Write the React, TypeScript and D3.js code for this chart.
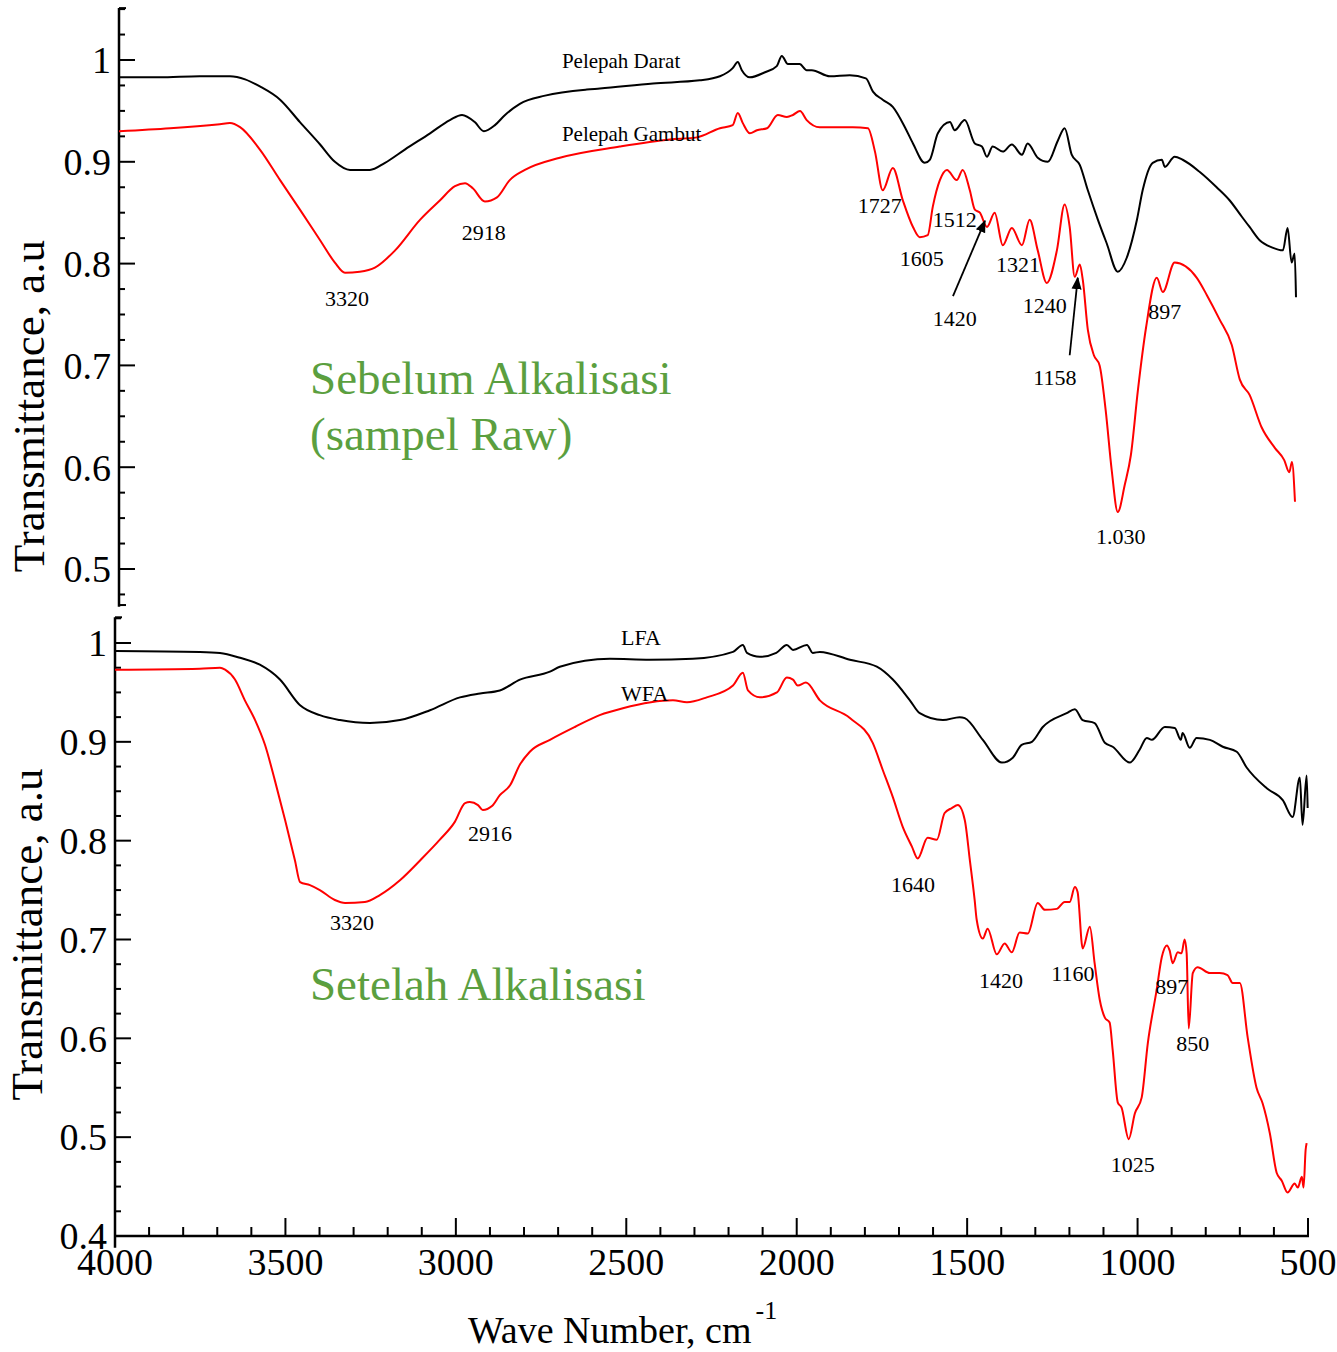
import React from 'react';
import * as d3 from 'd3';

// spectra: [wave number cm-1, transmittance]
const pelepahDarat: [number, number][] = [
  [4000, 0.983], [3880, 0.983], [3760, 0.984], [3670, 0.984], [3625, 0.981], [3581, 0.974],
  [3521, 0.961], [3462, 0.939], [3402, 0.917], [3358, 0.9], [3313, 0.892], [3254, 0.892],
  [3209, 0.899], [3150, 0.912], [3075, 0.928], [3016, 0.941], [2980, 0.946], [2942, 0.939],
  [2915, 0.93], [2882, 0.936], [2852, 0.946], [2808, 0.957], [2733, 0.965], [2609, 0.971],
  [2570, 0.972], [2412, 0.977], [2273, 0.98], [2213, 0.984], [2175, 0.992], [2160, 0.998],
  [2148, 0.99], [2124, 0.983], [2079, 0.988], [2044, 0.994], [2029, 1.004], [2011, 0.996],
  [1976, 0.996], [1955, 0.99], [1940, 0.99], [1886, 0.984], [1827, 0.985], [1779, 0.982],
  [1758, 0.969], [1729, 0.961], [1699, 0.954], [1663, 0.934], [1639, 0.918], [1604, 0.899],
  [1589, 0.902], [1565, 0.928], [1529, 0.939], [1515, 0.931], [1485, 0.941], [1455, 0.918],
  [1434, 0.915], [1419, 0.905], [1402, 0.915], [1372, 0.91], [1345, 0.917], [1315, 0.907],
  [1298, 0.918], [1268, 0.904], [1238, 0.9], [1208, 0.921], [1188, 0.933], [1167, 0.907],
  [1143, 0.897], [1119, 0.872], [1089, 0.843], [1063, 0.82], [1030, 0.792], [1003, 0.806],
  [973, 0.843], [956, 0.872], [926, 0.899], [899, 0.902], [890, 0.895], [861, 0.905],
  [837, 0.902], [786, 0.89], [736, 0.875], [697, 0.862], [661, 0.846], [638, 0.836],
  [608, 0.823], [572, 0.816], [539, 0.813], [525, 0.835], [513, 0.801], [504, 0.81], [500, 0.767],
];

const pelepahGambut: [number, number][] = [
  [4000, 0.93], [3848, 0.933], [3700, 0.937], [3670, 0.938], [3640, 0.934], [3581, 0.912],
  [3521, 0.882], [3462, 0.853], [3402, 0.823], [3358, 0.801], [3328, 0.791], [3284, 0.792],
  [3239, 0.796], [3179, 0.813], [3105, 0.843], [3046, 0.862], [3001, 0.876], [2971, 0.879],
  [2948, 0.874], [2912, 0.861], [2876, 0.865], [2838, 0.882], [2793, 0.892], [2689, 0.904],
  [2511, 0.915], [2362, 0.922], [2282, 0.924], [2213, 0.933], [2175, 0.936], [2160, 0.948],
  [2145, 0.938], [2124, 0.928], [2103, 0.931], [2073, 0.933], [2041, 0.946], [2014, 0.944],
  [1996, 0.946], [1975, 0.95], [1955, 0.941], [1916, 0.934], [1818, 0.934], [1773, 0.933],
  [1752, 0.91], [1729, 0.872], [1699, 0.894], [1669, 0.862], [1639, 0.836], [1619, 0.826],
  [1595, 0.828], [1580, 0.856], [1559, 0.882], [1538, 0.892], [1509, 0.882], [1491, 0.892],
  [1470, 0.872], [1455, 0.853], [1440, 0.85], [1419, 0.836], [1396, 0.85], [1372, 0.818],
  [1345, 0.835], [1315, 0.818], [1292, 0.843], [1268, 0.813], [1241, 0.781], [1211, 0.813],
  [1188, 0.858], [1173, 0.836], [1158, 0.787], [1143, 0.799], [1134, 0.784], [1119, 0.735],
  [1101, 0.71], [1084, 0.7], [1066, 0.656], [1048, 0.597], [1030, 0.556], [1009, 0.583],
  [991, 0.612], [970, 0.676], [946, 0.737], [914, 0.786], [896, 0.772], [861, 0.801],
  [795, 0.786], [765, 0.769], [727, 0.745], [691, 0.72], [667, 0.686], [638, 0.671],
  [602, 0.639], [563, 0.619], [535, 0.607], [520, 0.595], [512, 0.605], [503, 0.566],
];

const lfa: [number, number][] = [
  [4000, 0.992], [3751, 0.991], [3692, 0.99], [3633, 0.985], [3575, 0.978], [3516, 0.963],
  [3457, 0.937], [3399, 0.927], [3340, 0.922], [3252, 0.919], [3164, 0.922], [3076, 0.932],
  [2988, 0.945], [2929, 0.949], [2871, 0.952], [2812, 0.963], [2724, 0.971], [2695, 0.976],
  [2548, 0.984], [2431, 0.983], [2305, 0.984], [2187, 0.991], [2158, 0.998], [2146, 0.99],
  [2108, 0.986], [2060, 0.99], [2029, 0.998], [2011, 0.993], [1970, 0.998], [1953, 0.99],
  [1932, 0.991], [1844, 0.983], [1765, 0.976], [1718, 0.963], [1668, 0.942], [1639, 0.929],
  [1571, 0.922], [1522, 0.925], [1507, 0.924], [1454, 0.902], [1398, 0.879], [1366, 0.884],
  [1340, 0.897], [1310, 0.9], [1278, 0.915], [1208, 0.929], [1184, 0.933], [1161, 0.922],
  [1126, 0.919], [1096, 0.899], [1073, 0.895], [1023, 0.879], [994, 0.892], [973, 0.904],
  [958, 0.902], [920, 0.915], [891, 0.914], [873, 0.902], [868, 0.909], [847, 0.894],
  [827, 0.904], [788, 0.902], [750, 0.895], [709, 0.89], [680, 0.874], [621, 0.853],
  [574, 0.841], [545, 0.824], [524, 0.864], [516, 0.816], [504, 0.866], [501, 0.833],
];

const wfa: [number, number][] = [
  [4000, 0.973], [3751, 0.974], [3692, 0.975], [3677, 0.973], [3648, 0.963], [3619, 0.942],
  [3589, 0.922], [3560, 0.897], [3531, 0.861], [3501, 0.821], [3472, 0.78], [3457, 0.758],
  [3428, 0.755], [3399, 0.75], [3355, 0.74], [3325, 0.737], [3267, 0.738], [3223, 0.745],
  [3164, 0.76], [3105, 0.78], [3047, 0.801], [3003, 0.819], [2973, 0.838], [2959, 0.839],
  [2935, 0.836], [2921, 0.831], [2894, 0.835], [2871, 0.846], [2841, 0.856], [2812, 0.877],
  [2783, 0.89], [2724, 0.902], [2651, 0.915], [2578, 0.927], [2510, 0.934], [2363, 0.942],
  [2322, 0.94], [2264, 0.945], [2187, 0.957], [2158, 0.97], [2143, 0.952], [2108, 0.945],
  [2058, 0.95], [2029, 0.965], [2011, 0.963], [1997, 0.957], [1973, 0.96], [1932, 0.942],
  [1844, 0.924], [1777, 0.899], [1747, 0.871], [1718, 0.844], [1689, 0.814], [1662, 0.794],
  [1645, 0.782], [1616, 0.803], [1589, 0.801], [1566, 0.828], [1545, 0.833], [1527, 0.836],
  [1507, 0.821], [1492, 0.78], [1478, 0.74], [1472, 0.72], [1454, 0.701], [1440, 0.711],
  [1413, 0.685], [1390, 0.696], [1369, 0.687], [1346, 0.707], [1322, 0.706], [1293, 0.737],
  [1272, 0.73], [1237, 0.731], [1214, 0.738], [1199, 0.738], [1184, 0.753], [1176, 0.748],
  [1161, 0.691], [1140, 0.713], [1126, 0.676], [1111, 0.639], [1096, 0.621], [1082, 0.616],
  [1073, 0.588], [1058, 0.535], [1047, 0.53], [1026, 0.498], [1008, 0.524], [988, 0.54],
  [970, 0.595], [944, 0.649], [929, 0.682], [914, 0.694], [906, 0.689], [897, 0.676],
  [882, 0.687], [871, 0.686], [862, 0.7], [856, 0.686], [850, 0.61], [838, 0.666],
  [824, 0.672], [788, 0.666], [759, 0.666], [736, 0.664], [721, 0.656], [700, 0.656],
  [677, 0.601], [651, 0.55], [633, 0.534], [612, 0.504], [592, 0.464], [577, 0.456],
  [560, 0.444], [539, 0.453], [530, 0.449], [518, 0.46], [513, 0.449], [507, 0.487], [504, 0.494],
];

// peak labels: [text, wave number, transmittance of baseline]
const topLabels: [string, number, number][] = [
  ['3320', 3322, 0.758], ['2918', 2915, 0.823], ['1727', 1738, 0.85], ['1605', 1613, 0.798],
  ['1512', 1515, 0.836], ['1420', 1515, 0.739], ['1321', 1327, 0.792], ['1240', 1247, 0.751],
  ['1158', 1217, 0.681], ['897', 890, 0.746], ['1.030', 1021, 0.525],
];
const bottomLabels: [string, number, number][] = [
  ['LFA', 2457, 0.998], ['WFA', 2446, 0.941], ['3320', 3305, 0.71], ['2916', 2900, 0.8],
  ['1640', 1659, 0.748], ['1420', 1401, 0.651], ['1160', 1190, 0.658], ['897', 900, 0.645],
  ['850', 838, 0.587], ['1025', 1014, 0.465],
];
// arrows: from [wn, T] to [wn, T]
const topArrows: [number, number, number, number][] = [
  [1520, 0.768, 1425, 0.842],
  [1173, 0.71, 1149, 0.786],
];

const xMajor = [4000, 3500, 3000, 2500, 2000, 1500, 1000, 500];

const FONT = "'Liberation Serif', 'Times New Roman', serif";
const GREEN = '#5b9f3f';

const W = 1337;
const H = 1352;

const xTop = d3.scaleLinear().domain([4000, 500]).range([119, 1296]);
const yTop = d3.scaleLinear().domain([0.5, 1]).range([569, 60]);
const xBot = d3.scaleLinear().domain([4000, 500]).range([115, 1308]);
const yBot = d3.scaleLinear().domain([0.4, 1]).range([1236, 643]);

function spectrum(x: d3.ScaleLinear<number, number>, y: d3.ScaleLinear<number, number>) {
  return d3.line<[number, number]>()
    .x((d) => x(d[0]))
    .y((d) => y(d[1]))
    .curve(d3.curveMonotoneX);
}

function YAxis({ x, y, from, to, majors }: any) {
  const ax = x(4000);
  const ticks = d3.range(from, to + 1).map((i: number) => i * 0.025);
  return (
    <g>
      <line x1={ax} x2={ax} y1={y(to * 0.025) - 1} y2={y(from * 0.025 - 0.012)} stroke="#000" strokeWidth={2.5} />
      <line x1={ax} x2={ax + 7} y1={y(to * 0.025) - 1} y2={y(to * 0.025) - 1} stroke="#000" strokeWidth={2} />
      {ticks.map((t: number, i: number) => {
        const major = (from + i) % 4 === 0;
        return (
          <line key={i} x1={ax} x2={ax + (major ? 16 : 6)} y1={y(t)} y2={y(t)} stroke="#000" strokeWidth={2} />
        );
      })}
      {majors.map((t: number) => (
        <text key={t} x={ax - 8} y={y(t)} dy="0.35em" textAnchor="end" fontSize={38} fontFamily={FONT}>
          {t === 1 ? '1' : t.toFixed(1)}
        </text>
      ))}
    </g>
  );
}

export default function App() {
  const lineTop = spectrum(xTop, yTop);
  const lineBot = spectrum(xBot, yBot);
  const minorX = d3.range(5, 41).map((i) => i * 100);
  const yAxisBase = yBot(0.4);

  return (
    <svg width={W} height={H} style={{ position: 'absolute', left: 0, top: 0, background: '#fff' }}>
      <defs>
        <marker id="arrowhead" viewBox="0 0 10 10" refX="9" refY="5" markerWidth="7" markerHeight="9" orient="auto">
          <path d="M0,1 L10,5 L0,9 z" fill="#000" />
        </marker>
      </defs>

      {/* top panel: sebelum alkalisasi */}
      <YAxis x={xTop} y={yTop} from={19} to={42} majors={[0.5, 0.6, 0.7, 0.8, 0.9, 1]} />
      <line x1={xTop(4000)} x2={xTop(4000) + 7} y1={yTop(0.4646)} y2={yTop(0.4646)} stroke="#000" strokeWidth={2} />
      <path d={lineTop(pelepahDarat) || ''} fill="none" stroke="#000" strokeWidth={2} />
      <path d={lineTop(pelepahGambut) || ''} fill="none" stroke="#ff0000" strokeWidth={2} />
      <text x={xTop(2683)} y={yTop(0.992)} fontSize={21} fontFamily={FONT}>Pelepah Darat</text>
      <text x={xTop(2683)} y={yTop(0.92)} fontSize={21} fontFamily={FONT}>Pelepah Gambut</text>
      {topLabels.map(([s, wn, t], i) => (
        <text key={i} x={xTop(wn)} y={yTop(t)} textAnchor="middle" fontSize={22} fontFamily={FONT}>{s}</text>
      ))}
      {topArrows.map(([w1, t1, w2, t2], i) => (
        <line key={i} x1={xTop(w1)} y1={yTop(t1)} x2={xTop(w2)} y2={yTop(t2)} stroke="#000" strokeWidth={1.8} markerEnd="url(#arrowhead)" />
      ))}
      <text x={xTop(3432)} y={yTop(0.672)} fontSize={47} fontFamily={FONT} fill={GREEN}>Sebelum Alkalisasi</text>
      <text x={xTop(3432)} y={yTop(0.617)} fontSize={47} fontFamily={FONT} fill={GREEN}>(sampel Raw)</text>
      <text transform={`translate(44,${yTop(0.66)}) rotate(-90)`} textAnchor="middle" fontSize={45} fontFamily={FONT}>
        Transmittance, a.u
      </text>

      {/* bottom panel: setelah alkalisasi */}
      <YAxis x={xBot} y={yBot} from={16} to={41} majors={[0.4, 0.5, 0.6, 0.7, 0.8, 0.9, 1]} />
      <line x1={xBot(4000) - 1} x2={xBot(500) + 1} y1={yAxisBase} y2={yAxisBase} stroke="#000" strokeWidth={2.5} />
      {minorX.map((v) => {
        const major = v % 500 === 0;
        return (
          <line key={v} x1={xBot(v)} x2={xBot(v)} y1={yAxisBase} y2={yAxisBase - (major ? 18 : 9)} stroke="#000" strokeWidth={2} />
        );
      })}
      {xMajor.map((v) => (
        <text key={v} x={xBot(v)} y={yAxisBase + 39} textAnchor="middle" fontSize={38} fontFamily={FONT}>{v}</text>
      ))}
      <path d={lineBot(lfa) || ''} fill="none" stroke="#000" strokeWidth={2} />
      <path d={lineBot(wfa) || ''} fill="none" stroke="#ff0000" strokeWidth={2} />
      {bottomLabels.map(([s, wn, t], i) => (
        <text key={i} x={xBot(wn)} y={yBot(t)} textAnchor="middle" fontSize={22} fontFamily={FONT}>{s}</text>
      ))}
      <text x={xBot(3428)} y={yBot(0.639)} fontSize={47} fontFamily={FONT} fill={GREEN}>Setelah Alkalisasi</text>
      <text transform={`translate(42,${yBot(0.705)}) rotate(-90)`} textAnchor="middle" fontSize={45} fontFamily={FONT}>
        Transmittance, a.u
      </text>

      <text x={468} y={1343} fontSize={38} fontFamily={FONT}>
        Wave Number, cm
        <tspan dy={-24} dx={4} fontSize={26}>-1</tspan>
      </text>
    </svg>
  );
}
